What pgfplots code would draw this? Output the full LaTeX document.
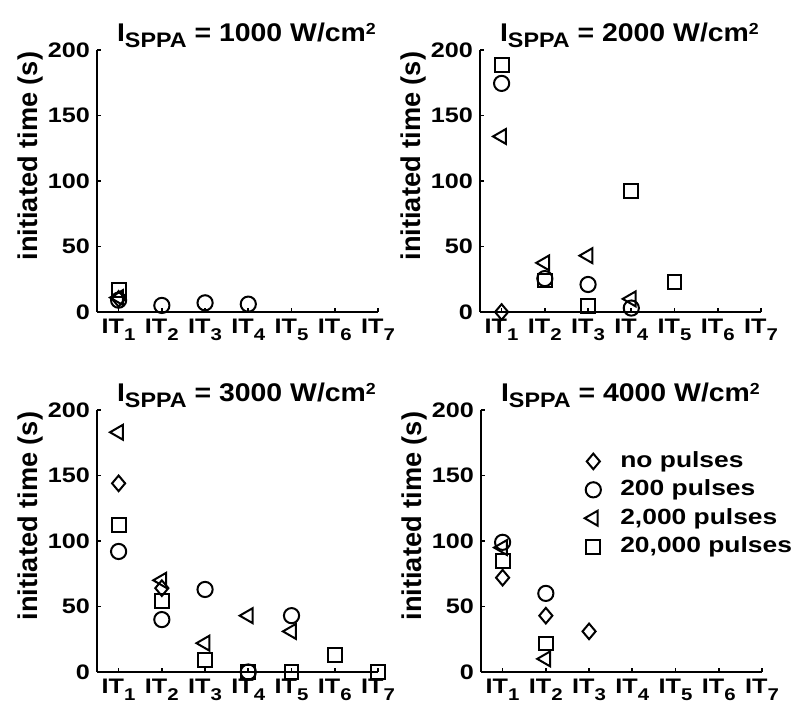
\documentclass[border=0pt]{standalone}
\usepackage{fontspec}
\setmainfont{Liberation Sans}
\newfontfamily\hfont{Liberation Sans}[FakeStretch=1.2]
\newfontfamily\tfont{Liberation Sans}[FakeStretch=1.11]
\usepackage{pgfplots}
\pgfplotsset{compat=1.18}

\newcommand\IT[1]{IT\raisebox{-3.6pt}{\fontsize{8.5}{9}\selectfont #1}}
\newcommand\ttl[1]{I\raisebox{-3pt}{\fontsize{10.5}{11}\selectfont SPPA} = #1 W/cm\raisebox{3.7pt}{\fontsize{8}{9}\selectfont 2}}

\pgfplotsset{
  every axis title shift=0pt,
  panel/.style={
    scale only axis, width=140.5pt, height=131pt,
    xmin=0.5, xmax=7, ymin=0, ymax=200,
    axis x line=bottom, axis y line=left,
    axis line style={-, line width=1pt},
    xtick={1,2,3,4,5,6,7},
    xticklabels={\IT{1},\IT{2},\IT{3},\IT{4},\IT{5},\IT{6},\IT{7}},
    ytick={0,50,100,150,200},
    tick style={black, line width=0.8pt},
    major tick length=2pt,
    tick align=inside,
    /pgf/number format/assume math mode=true,
    tick label style={font=\hfont\bfseries\fontsize{10.5}{12}\selectfont},
    ylabel={initiated time (s)},
    ylabel style={font=\bfseries\fontsize{13.6}{15}\selectfont, at={(axis description cs:-0.236,0.595)}, anchor=center},
    title style={font=\tfont\bfseries\fontsize{12.8}{15}\selectfont, at={(axis description cs:0.532,1)}, anchor=base, yshift=4pt},
    clip=false,
  },
  sd/.style={only marks, black, mark=diamond, mark size=3.9pt, mark options={line width=1pt, xscale=1.12}},
  sc/.style={only marks, black, mark=o, mark size=3.8pt, mark options={line width=1pt}},
  st/.style={only marks, black, mark=triangle, mark size=4.3pt, mark options={line width=1pt, rotate=90}},
  ss/.style={only marks, black, mark=square, mark size=3.45pt, mark options={line width=1pt}},
}

\begin{document}
\begin{tikzpicture}
\useasboundingbox (0,0) rectangle (400pt,361.5pt);

% Panel 1
\begin{axis}[panel, at={(48.5pt,205.5pt)}, anchor=south west, title={\ttl{1000}}]
\addplot[sd] coordinates {(1,10)};
\addplot[sc] coordinates {(1,9) (2,5) (3,7) (4,6)};
\addplot[st] coordinates {(1,11)};
\addplot[ss] coordinates {(1,17)};
\end{axis}

% Panel 2
\begin{axis}[panel, at={(240pt,205.5pt)}, anchor=south west, title={\ttl{2000}}]
\addplot[sd] coordinates {(1,0)};
\addplot[sc] coordinates {(1,174.5) (2,25.5) (3,21) (4,3)};
\addplot[st] coordinates {(1,134) (2,37.5) (3,43) (4,10)};
\addplot[ss] coordinates {(1,188.5) (2,24) (3,4.3) (4,92.5) (5,23)};
\end{axis}

% Panel 3
\begin{axis}[panel, at={(48.5pt,25.5pt)}, anchor=south west, title={\ttl{3000}}]
\addplot[sd] coordinates {(1,144) (2,64)};
\addplot[sc] coordinates {(1,92) (2,40) (3,63) (4,0) (5,43)};
\addplot[st] coordinates {(1,183) (2,70) (3,22) (4,43) (5,31)};
\addplot[ss] coordinates {(1,112) (2,54) (3,9) (4,0) (5,0) (6,13) (7,0)};
\end{axis}

% Panel 4
\begin{axis}[panel, at={(240.5pt,25.5pt)}, anchor=south west, title={\ttl{4000}},
  legend cell align=left,
  legend image code/.code={\path[draw=none,fill=none] (0pt,-3pt) rectangle (20pt,3pt); \draw[#1] plot coordinates {(8pt,0pt)};},
  legend style={draw=none, fill=none, at={(axis description cs:0.32,0.874)}, anchor=north west,
    font=\hfont\bfseries\fontsize{11}{12}\selectfont,
    nodes={inner sep=1.5pt, text height=8.5pt, text depth=2.5pt}, row sep=0.2pt}]
\addplot[sd] coordinates {(1,72) (2,43) (3,31)};
\addlegendentry{no pulses}
\addplot[sc] coordinates {(1,99) (2,60)};
\addlegendentry{200 pulses}
\addplot[st] coordinates {(1,95) (2,10)};
\addlegendentry{2,000 pulses}
\addplot[ss] coordinates {(1,85) (2,21.7)};
\addlegendentry{20,000 pulses}
\end{axis}
\end{tikzpicture}
\end{document}
